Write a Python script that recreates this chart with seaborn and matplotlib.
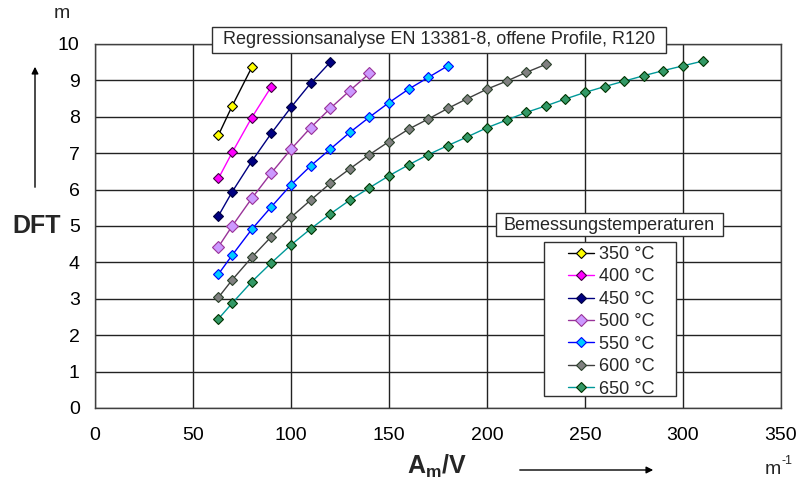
import pandas as pd
import seaborn as sns
import matplotlib.pyplot as plt
from matplotlib.lines import Line2D
from matplotlib.patches import Rectangle

# Am/V values (m^-1) used along every curve
am_v = [63, 70, 80, 90, 100, 110, 120, 130, 140, 150, 160, 170, 180, 190,
        200, 210, 220, 230, 240, 250, 260, 270, 280, 290, 300, 310]

# DFT (m) per design temperature
dft_350 = [7.50, 8.30, 9.36]
dft_400 = [6.31, 7.02, 7.98, 8.83]
dft_450 = [5.28, 5.94, 6.78, 7.55, 8.26, 8.92, 9.50]
dft_500 = [4.43, 5.00, 5.76, 6.46, 7.11, 7.70, 8.23, 8.72, 9.19]
dft_550 = [3.68, 4.20, 4.91, 5.53, 6.13, 6.65, 7.11, 7.57, 7.99, 8.39,
           8.76, 9.08, 9.40]
dft_600 = [3.04, 3.52, 4.14, 4.71, 5.24, 5.71, 6.17, 6.57, 6.96, 7.32,
           7.66, 7.94, 8.23, 8.50, 8.76, 8.98, 9.22, 9.44]
dft_650 = [2.45, 2.88, 3.47, 3.99, 4.48, 4.92, 5.33, 5.71, 6.05, 6.38,
           6.68, 6.96, 7.21, 7.45, 7.70, 7.91, 8.12, 8.30, 8.49, 8.67,
           8.83, 8.98, 9.13, 9.27, 9.40, 9.53]

labels = ['350 °C', '400 °C', '450 °C', '500 °C', '550 °C', '600 °C', '650 °C']
series = [dft_350, dft_400, dft_450, dft_500, dft_550, dft_600, dft_650]

# line colour, marker face, marker edge, marker size
styles = [
    ('#000000', '#FFFF00', '#000000', 5.5),
    ('#FF00FF', '#FF00FF', '#400040', 5.5),
    ('#000080', '#000080', '#000040', 5.5),
    ('#993399', '#CC99FF', '#993399', 6.5),
    ('#0000FF', '#00CCFF', '#0000FF', 5.5),
    ('#404040', '#808080', '#2A402A', 5.5),
    ('#009999', '#339966', '#003300', 5.5),
]

# Build one long table
rows = []
for label, vals in zip(labels, series):
    for x, y in zip(am_v[:len(vals)], vals):
        rows.append({'AmV': x, 'DFT': y, 'Temp': label})
df = pd.DataFrame(rows)

sns.set_style('white')
plt.rcParams['font.family'] = ['Liberation Sans', 'DejaVu Sans']
plt.rcParams['mathtext.fontset'] = 'custom'
plt.rcParams['mathtext.rm'] = 'Liberation Sans'
plt.rcParams['mathtext.bf'] = 'Liberation Sans:bold'

W, H = 800, 484
fig = plt.figure(figsize=(8, 4.84), dpi=100)
ax = fig.add_axes([95 / W, 76 / H, 686 / W, 364 / H])

handles = []
for label, (lc, mfc, mec, ms) in zip(labels, styles):
    sub = df[df['Temp'] == label]
    sns.lineplot(data=sub, x='AmV', y='DFT', ax=ax, color=lc, lw=1,
                 marker='D', markersize=ms, markerfacecolor=mfc,
                 markeredgecolor=mec, markeredgewidth=0.8, legend=False)
    handles.append(Line2D([], [], color=lc, lw=1, marker='D', markersize=ms,
                          markerfacecolor=mfc, markeredgecolor=mec,
                          markeredgewidth=0.8))

ax.set_xlim(0, 350)
ax.set_ylim(0, 10)
ax.set_xticks(range(0, 351, 50))
ax.set_yticks(range(0, 11))
ax.grid(True, color='#222222', lw=1)
ax.set_axisbelow(True)
for sp in ax.spines.values():
    sp.set_color('#404040')
    sp.set_linewidth(1)
ax.tick_params(length=0, labelsize=14, colors='black')
ax.tick_params(axis='y', pad=11)
ax.tick_params(axis='x', pad=14)
ax.set_xlabel('')
ax.set_ylabel('')


def pixel_box(x0, y0, x1, y1):
    # white framed box given in figure pixels (y from top)
    r = Rectangle((x0 / W, 1 - y1 / H), (x1 - x0) / W, (y1 - y0) / H,
                  transform=fig.transFigure, fc='white', ec='#303030',
                  lw=1, zorder=4, clip_on=False)
    ax.add_patch(r)


# Legend box, its separate title box and the chart title box
pixel_box(544, 242, 676, 396)
pixel_box(496, 213, 723, 236)
pixel_box(212, 27, 666, 53)

leg = ax.legend(handles, labels, loc='upper left',
                bbox_to_anchor=(568 / W, 1 - 246 / H),
                bbox_transform=fig.transFigure, borderaxespad=0,
                fontsize=13, frameon=False,
                handlelength=1.45, handletextpad=0.25, labelspacing=0.3,
                borderpad=0)
leg.set_zorder(5)

fig.text(609 / W, 1 - 225 / H, 'Bemessungstemperaturen', fontsize=13,
         ha='center', va='center')
fig.text(439 / W, 1 - 40 / H,
         'Regressionsanalyse EN 13381-8, offene Profile, R120', fontsize=13,
         ha='center', va='center')

# Axis labels and units
fig.text(37 / W, 1 - 226 / H, 'DFT', fontsize=18, fontweight='bold',
         ha='center', va='center')
fig.text(62 / W, 1 - 14 / H, 'm', fontsize=14, ha='center', va='center')
fig.text(437 / W, 1 - 466 / H, r'A$_\mathbf{m}$/V', fontsize=18,
         fontweight='bold', ha='center', va='center')
fig.text(765 / W, 1 - 470 / H, 'm', fontsize=14, ha='left', va='center')
fig.text(782 / W, 1 - 461 / H, '-1', fontsize=9, ha='left', va='center')

# Direction arrows
arrow = dict(arrowstyle='-|>', color='black', lw=1, mutation_scale=10)
ax.annotate('', xy=(35, H - 64), xytext=(35, H - 190),
            xycoords='figure pixels', textcoords='figure pixels',
            arrowprops=arrow, annotation_clip=False)
ax.annotate('', xy=(656, 14), xytext=(517, 14),
            xycoords='figure pixels', textcoords='figure pixels',
            arrowprops=arrow, annotation_clip=False)

fig.savefig('out.png', dpi=100)
